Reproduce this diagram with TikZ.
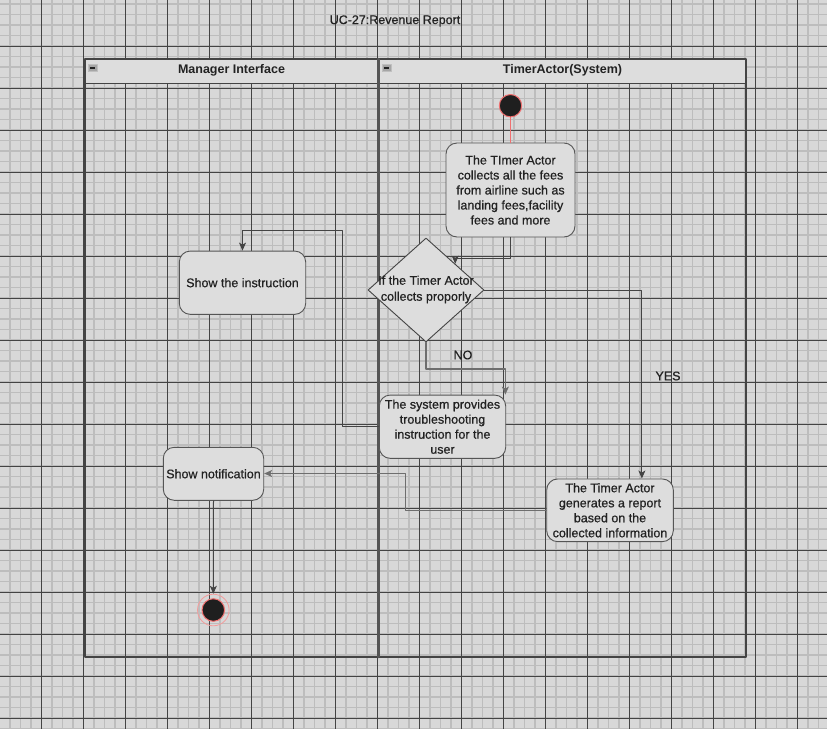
\documentclass[tikz,border=0pt]{standalone}
\usepackage{fontspec}
\setmainfont{Liberation Sans}
\newfontfamily\boxfont{Liberation Sans}[FakeBold=0.7]
\usepackage{pgf,tikz}
\usetikzlibrary{arrows.meta}
\usetikzlibrary{calc}
\usetikzlibrary{shapes.geometric}
\definecolor{bggray}{HTML}{D8D8D8}
\definecolor{minorgray}{HTML}{BDBDBD}
\definecolor{majorgray}{HTML}{444444}
\definecolor{boxgray}{HTML}{DDDDDD}
\definecolor{edgegray}{HTML}{555555}
\definecolor{inkgray}{HTML}{222222}
\definecolor{startred}{HTML}{F07070}
\begin{document}
\begin{tikzpicture}[line cap=round,line join=round,>={Stealth[length=8pt,width=7pt,inset=2pt]},x=1pt,y=-1pt]
\tikzstyle{minorline}=[line width=1.5pt, color=minorgray, line cap=butt]
\tikzstyle{majorline}=[line width=0.8pt, color=majorgray, line cap=butt]
\tikzstyle{txt}=[font=\boxfont\fontsize{12.5}{15}\selectfont, text=inkgray, align=center]
\tikzstyle{action}=[txt, draw=edgegray, fill=boxgray, line width=0.9pt, rounded corners=11pt, inner sep=2pt]
\tikzstyle{decision}=[diamond, draw=majorgray, fill=boxgray, line width=0.9pt, inner sep=0pt, minimum width=116pt, minimum height=104pt]
\tikzstyle{flow}=[->, line width=1pt, color=majorgray]
\tikzstyle{flowgray}=[->, line width=1.2pt, color=edgegray!85]
\useasboundingbox (0,0) rectangle (827,729);
\fill [bggray] (0,0) rectangle (827,729);
% grid
\foreach \i in {0,...,79} \draw [minorline] ({-0.7+10.5*\i},0) -- ({-0.7+10.5*\i},729);
\foreach \j in {0,...,69} \draw [minorline] (0,{4+10.5*\j}) -- (827,{4+10.5*\j});
\foreach \i in {0,...,18} \draw [majorline] ({41.3+42*\i},0) -- ({41.3+42*\i},729);
\foreach \j in {0,...,16} \draw [majorline] (0,{46+42*\j}) -- (827,{46+42*\j});
% title
\node [txt] (title) at (395,21) {UC-27:Revenue Report};
% swimlanes
\fill [boxgray] (85,59) rectangle (746,83);
\draw [line width=1.2pt, color=majorgray] (85,59) rectangle (746,657);
\draw [line width=1pt, color=majorgray] (85,83) -- (746,83);
\draw [line width=2.4pt, color=edgegray] (378.5,59) -- (378.5,657);
\node [txt, font=\fontsize{12.5}{15}\selectfont\bfseries] (mgr) at (231.5,70) {Manager Interface};
\node [txt, font=\fontsize{12.5}{15}\selectfont\bfseries] (tmr) at (562.5,70) {TimerActor(System)};
\foreach \x in {88,382} {
\draw [fill=gray!70, draw=gray!50, line width=0.6pt] (\x,64) rectangle (\x+9.3,71.5);
\draw [line width=1.4pt, color=inkgray, line cap=butt] (\x+2,67.8) -- (\x+7.3,67.8);
}
% nodes
\node [circle, fill=black!88, draw=startred, line width=1pt, minimum size=22.4pt, inner sep=0pt] (start) at (510.5,105.7) {};
\node [action, minimum width=129pt, minimum height=94pt] (collect) at (510.5,190) {The TImer Actor\\collects all the fees\\from airline such as\\landing fees,facility\\fees and more};
\node [decision] (check) at (426,290) {};
\node [txt, font=\boxfont\fontsize{12.5}{16}\selectfont] (checktext) at (426,289.5) {If the Timer Actor\\collects proporly};
\node [action, minimum width=126.4pt, minimum height=63.3pt] (trouble) at (442.5,426.7) {The system provides\\troubleshooting\\instruction for the\\user};
\node [action, minimum width=126.4pt, minimum height=63.3pt] (instr) at (242.5,282.7) {Show the instruction};
\node [action, minimum width=126.6pt, minimum height=62.7pt] (report) at (610,510.3) {The Timer Actor\\generates a report\\based on the\\collected information};
\node [action, minimum width=100.4pt, minimum height=53pt] (notify) at (213.5,473.8) {Show notification};
\node [circle, draw=startred!70, line width=0.8pt, minimum size=31.6pt, inner sep=0pt] (stop) at (213.3,610) {};
\draw [fill=black!88, draw=startred, line width=1pt] (stop.center) circle (11.3);
% connectors
\coordinate (bendA) at (342.5,230.5);
\coordinate (bendB) at (405.3,473.5);
\draw [line width=1.2pt, color=startred] (start) -- (collect);
\draw [flow] (collect.south) -- ++(0,21) -| ($(check.north)!0.5!(check.east)$);
\draw [flow] (check.east) -| ($(report.north)!0.5!(report.north east)$);
\draw [flowgray] (check.south) -- ++(0,26.5) -| ($(trouble.north east)+(-0.8,0)$);
\draw [flow] (trouble.west) -| (bendA) -| (instr.north);
\draw [flowgray] (report.west) -| (bendB) -- (notify.east |- bendB);
\draw [flow] (notify.south) -- (stop);
\node [txt] (yes) at (668,376) {YES};
\node [txt] (no) at (463,355) {NO};
\end{tikzpicture}
\end{document}
